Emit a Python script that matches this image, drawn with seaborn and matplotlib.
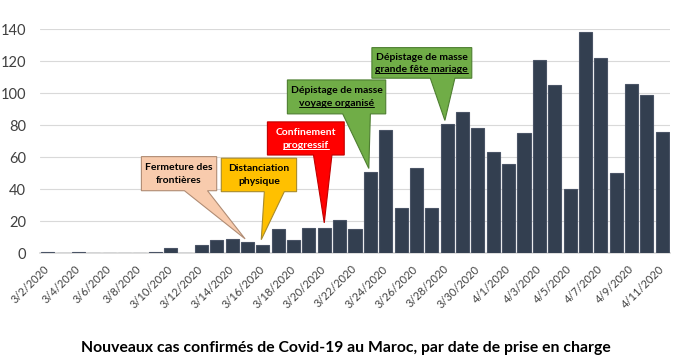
import pandas as pd
import matplotlib
matplotlib.use("Agg")
import matplotlib.pyplot as plt
from matplotlib.patches import Polygon
from matplotlib.lines import Line2D
import seaborn as sns

# Nouveaux cas par jour
dates = ["3/2/2020", "3/3/2020", "3/4/2020", "3/5/2020", "3/6/2020", "3/7/2020",
         "3/8/2020", "3/9/2020", "3/10/2020", "3/11/2020", "3/12/2020", "3/13/2020",
         "3/14/2020", "3/15/2020", "3/16/2020", "3/17/2020", "3/18/2020", "3/19/2020",
         "3/20/2020", "3/21/2020", "3/22/2020", "3/23/2020", "3/24/2020", "3/25/2020",
         "3/26/2020", "3/27/2020", "3/28/2020", "3/29/2020", "3/30/2020", "3/31/2020",
         "4/1/2020", "4/2/2020", "4/3/2020", "4/4/2020", "4/5/2020", "4/6/2020",
         "4/7/2020", "4/8/2020", "4/9/2020", "4/10/2020", "4/11/2020"]
cases = [1, 0, 1, 0, 0, 0, 0, 1, 3, 0, 5, 8, 9, 7, 5, 15, 8, 16, 16, 21, 15,
         51, 77, 28, 53, 28, 81, 88, 78, 63, 56, 75, 121, 105, 40, 138, 122,
         50, 106, 99, 76]

title = "Nouveaux cas confirmés de Covid-19 au Maroc, par date de prise en charge"

sns.set_theme(style="white")
plt.rcParams["font.family"] = ["Lato", "DejaVu Sans"]

df = pd.DataFrame({"date": dates, "cases": cases})

fig = plt.figure(figsize=(6.8, 3.62), dpi=100)
ax = fig.add_axes([0.0588, 0.3003, 0.9265, 0.619])

sns.barplot(data=df, x="date", y="cases", color="#333f50", saturation=1,
            width=0.85, edgecolor="#4a5466", linewidth=0.8, ax=ax, zorder=3)

ax.set_xlim(-0.5, len(dates) - 0.5)
ax.set_ylim(0, 140)
ax.set_yticks(range(0, 141, 20))
ax.yaxis.grid(True, color="#d9d9d9", linewidth=0.8, zorder=0)
ax.set_axisbelow(True)
for s in ["top", "right", "left"]:
    ax.spines[s].set_visible(False)
ax.spines["bottom"].set_color("#d9d9d9")
ax.spines["bottom"].set_zorder(1)
ax.set_xlabel("")
ax.set_ylabel("")

ax.set_xticks(range(0, len(dates), 2))
ax.set_xticklabels(dates[::2], rotation=45, ha="right", va="center",
                   rotation_mode="anchor", fontsize=8, color="#404040")
ax.tick_params(axis="x", length=0, pad=10)
ax.tick_params(axis="y", length=0, pad=10, labelsize=10.5, labelcolor="#404040")

# Bulles d'annotation: boîte, pointe, couleurs, lignes de texte
callouts = [
    dict(box=(6.1, 39.1, 11.0, 60.4), base=(8.9, 10.4), tip=(12.85, 9.0),
         fc="#f8cbad", ec="#b08c74", tc="black",
         lines=["Fermeture des", "frontières"], underline=[False, False]),
    dict(box=(11.3, 38.5, 16.2, 59.4), base=(14.1, 15.4), tip=(13.9, 8.5),
         fc="#ffc000", ec="#a88b2c", tc="black",
         lines=["Distanciation", "physique"], underline=[False, False]),
    dict(box=(14.3, 61.4, 19.3, 82.1), base=(17.3, 18.5), tip=(18.0, 19.0),
         fc="#ff0000", ec="#c00000", tc="white",
         lines=["Confinement", "progressif"], underline=[False, True]),
    dict(box=(15.6, 87.1, 22.0, 108.3), base=(19.2, 21.0), tip=(20.9, 53.0),
         fc="#70ad47", ec="#4e7f31", tc="black",
         lines=["Dépistage de masse", "voyage organisé"], underline=[False, True]),
    dict(box=(21.1, 109.4, 27.6, 128.5), base=(24.9, 26.5), tip=(25.85, 83.0),
         fc="#70ad47", ec="#4e7f31", tc="black",
         lines=["Dépistage de masse", "grande fête mariage"], underline=[False, True]),
]

texts = []
for c in callouts:
    x0, y0, x1, y1 = c["box"]
    b0, b1 = c["base"]
    pts = [(x0, y0), (b0, y0), c["tip"], (b1, y0), (x1, y0), (x1, y1), (x0, y1)]
    ax.add_patch(Polygon(pts, closed=True, facecolor=c["fc"], edgecolor=c["ec"],
                         linewidth=0.8, zorder=5, clip_on=False))
    xc = (x0 + x1) / 2
    h = y1 - y0
    for k, (line, ul) in enumerate(zip(c["lines"], c["underline"])):
        yy = y1 - h * (0.32 + 0.38 * k)
        t = ax.text(xc, yy, line, ha="center", va="center", fontsize=7.5,
                    fontweight="bold", color=c["tc"], zorder=6)
        if ul:
            texts.append((t, c["tc"]))

fig.text(0.509, 0.038, title, ha="center", va="center", fontsize=11.3,
         fontweight="bold", color="black")

# soulignement des secondes lignes
fig.canvas.draw()
renderer = fig.canvas.get_renderer()
inv = fig.transFigure.inverted()
for t, col in texts:
    bb = t.get_window_extent(renderer)
    (fx0, fy0), (fx1, fy1) = inv.transform([(bb.x0, bb.y0 + 1.0), (bb.x1, bb.y0 + 1.0)])
    fig.add_artist(Line2D([fx0, fx1], [fy0, fy1], color=col, linewidth=0.7, zorder=7))

fig.savefig("out.png", dpi=100)
